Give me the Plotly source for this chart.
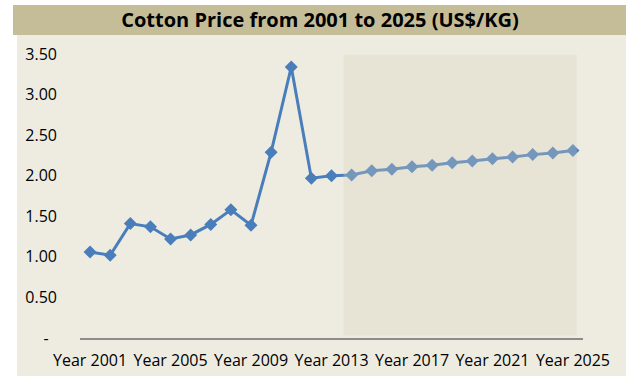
import plotly.graph_objects as go

years = [f"Year {y}" for y in range(2001, 2026)]
prices = [1.06, 1.02, 1.41, 1.37, 1.22, 1.27, 1.40, 1.58, 1.39, 2.29, 3.34, 1.97, 2.00,
          2.01, 2.06, 2.08, 2.11, 2.13, 2.16, 2.18, 2.21, 2.23, 2.26, 2.28, 2.31]
x_ticks = ["Year 2001", "Year 2005", "Year 2009", "Year 2013", "Year 2017", "Year 2021", "Year 2025"]
y_ticks = [0, 0.5, 1.0, 1.5, 2.0, 2.5, 3.0, 3.5]
y_labels = ["-\u00a0\u00a0", "0.50", "1.00", "1.50", "2.00", "2.50", "3.00", "3.50"]
title = "Cotton Price from 2001 to 2025 (US$/KG)"

W, H = 626, 376
L, R, T, B = 80, 43, 54, 38
pw, ph = W - L - R, H - T - B

def px(x):
    return (x - L) / pw

def py(y):
    return (H - B - y) / ph

fig = go.Figure()
fig.add_trace(go.Scatter(
    x=years, y=prices, mode="lines+markers",
    line=dict(color="#4A7EBB", width=3),
    marker=dict(symbol="diamond", size=10, color="#4A7EBB"),
    hoverinfo="skip", showlegend=False,
))

shapes = [
    # panel background
    dict(type="rect", xref="paper", yref="paper", x0=px(17), x1=px(626), y0=py(376), y1=py(35),
         fillcolor="#EEECE1", line=dict(width=0), layer="below"),
    # title bar
    dict(type="rect", xref="paper", yref="paper", x0=px(13), x1=px(626), y0=py(35), y1=py(5),
         fillcolor="#C4BD97", line=dict(width=0), layer="below"),
    # forecast shading overlay
    dict(type="rect", xref="x", yref="y", x0=12.6, x1=24.2, y0=0.03, y1=3.49,
         fillcolor="rgba(214,208,190,0.30)", line=dict(width=0), layer="above"),
]

fig.update_layout(
    width=W, height=H,
    margin=dict(l=L, r=R, t=T, b=B, pad=0, autoexpand=False),
    paper_bgcolor="white", plot_bgcolor="rgba(0,0,0,0)",
    shapes=shapes,
    title=dict(text="<b>" + title + "</b>", x=320 / W, xref="container", xanchor="center",
               y=1 - 20 / H, yref="container", yanchor="middle",
               font=dict(family="Open Sans", size=20, color="#000000")),
    font=dict(family="Open Sans", size=16, color="#000000"),
    xaxis=dict(type="category", range=[-0.5, 24.5], tickmode="array", tickvals=x_ticks,
               ticktext=x_ticks, showgrid=False, zeroline=False, showline=True,
               linecolor="#8C8C8C", linewidth=2, ticks="", tickfont=dict(size=16),
               ticklabelstandoff=7, automargin=False),
    yaxis=dict(range=[0, 3.5], tickmode="array", tickvals=y_ticks, ticktext=y_labels,
               showgrid=False, zeroline=False, showline=False, ticks="",
               ticklabelstandoff=22, tickfont=dict(size=16), automargin=False),
)

fig.write_html("out.html")
